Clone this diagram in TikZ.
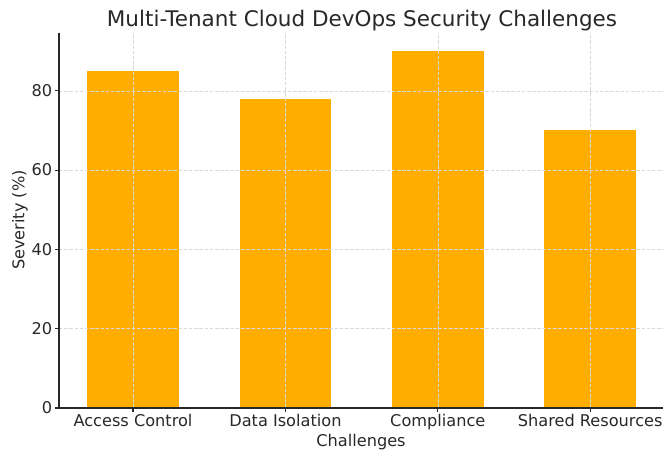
\documentclass[tikz,border=0pt]{standalone}
\usepackage{fontspec}
\setmainfont{DejaVu Sans}
\usetikzlibrary{
  positioning               % 节点相对定位
}
\definecolor{barorange}{RGB}{255,174,0}
\definecolor{axisgray}{RGB}{40,40,40}

\tikzset{
  bar/.style={fill=barorange, draw=none},
  gridline/.style={gray!30, dash pattern=on 2.5pt off 1.2pt, line width=0.35pt},
  tickmark/.style={axisgray, line width=0.8pt},
  ticklabel/.style={font=\fontsize{11.5}{14}\selectfont, text=axisgray, inner sep=1.5pt}
}

\begin{document}
\begin{tikzpicture}[line width=0.9pt]

  % 画布大小固定
  \useasboundingbox (0,0) rectangle (16.575,11.375);

  % =========== 标题 ===========
  \node[font=\fontsize{15.3}{18}\selectfont, text=axisgray] (title) at (9.05,10.87)
    {Multi-Tenant Cloud DevOps Security Challenges};

  % =========== 坐标系：横向每类一格，纵向为百分比 ===========
  \begin{scope}[shift={(3.325,1.175)}, x=3.81cm, y=0.09913cm]
    % 柱子 (宽 0.6)
    \fill[bar] (-0.3,0) rectangle (0.3,85);
    \fill[bar] (0.7,0) rectangle (1.3,78);
    \fill[bar] (1.7,0) rectangle (2.3,90);
    \fill[bar] (2.7,0) rectangle (3.3,70);

    % 网格线 (虚线，压在柱子上)
    \draw[gridline] (-0.486,20) -- (3.486,20);
    \draw[gridline] (-0.486,40) -- (3.486,40);
    \draw[gridline] (-0.486,60) -- (3.486,60);
    \draw[gridline] (-0.486,80) -- (3.486,80);
    \draw[gridline] (0,0) -- (0,94.6);
    \draw[gridline] (1,0) -- (1,94.6);
    \draw[gridline] (2,0) -- (2,94.6);
    \draw[gridline] (3,0) -- (3,94.6);

    % 坐标轴 (只画左边和下边)
    \coordinate (ytop) at (-0.486,94.6);
    \coordinate (O) at (-0.486,0);
    \coordinate (xend) at (3.486,0);
    \draw[axisgray] (ytop) -- (O) -- (xend);

    % 纵轴刻度与数值
    \draw[tickmark] (-0.486,0) -- ++(-0.027,0) node[ticklabel, left] (y0) {0};
    \draw[tickmark] (-0.486,20) -- ++(-0.027,0) node[ticklabel, left] (y20) {20};
    \draw[tickmark] (-0.486,40) -- ++(-0.027,0) node[ticklabel, left] (y40) {40};
    \draw[tickmark] (-0.486,60) -- ++(-0.027,0) node[ticklabel, left] (y60) {60};
    \draw[tickmark] (-0.486,80) -- ++(-0.027,0) node[ticklabel, left] (y80) {80};

    % 横轴刻度与类别名
    \draw[tickmark] (0,0) -- ++(0,-1) node[ticklabel, below] (c1) {Access Control};
    \draw[tickmark] (1,0) -- ++(0,-1) node[ticklabel, below] (c2) {Data Isolation};
    \draw[tickmark] (2,0) -- ++(0,-1) node[ticklabel, below] (c3) {Compliance};
    \draw[tickmark] (3,0) -- ++(0,-1) node[ticklabel, below] (c4) {Shared Resources};
  \end{scope}

  % =========== 坐标轴名称 ===========
  \node[ticklabel] (xlabel) at (9.025,0.33) {Challenges};
  \node[ticklabel, rotate=90] (ylabel) at (0.5,5.875) {Severity (\%)};

\end{tikzpicture}
\end{document}
